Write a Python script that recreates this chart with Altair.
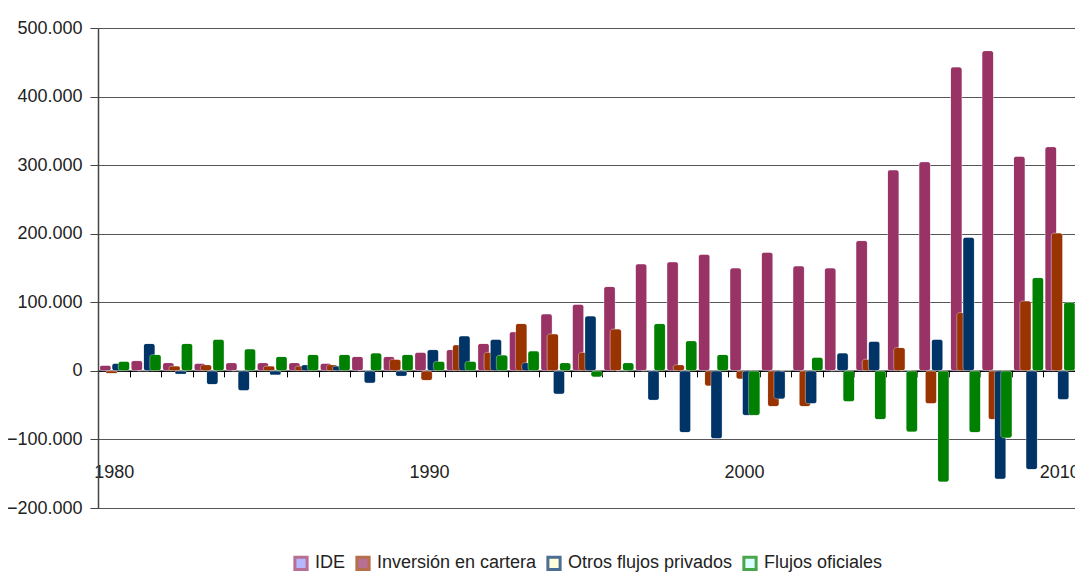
import altair as alt
import pandas as pd

years = list(range(1980, 2011))
series_names = ["IDE", "Inversión en cartera", "Otros flujos privados", "Flujos oficiales"]
bar_colors = ["#993366", "#993300", "#003366", "#008000"]
legend_inner = ["#9999FF", "#993366", "#FFFFCC", "#CCFFFF"]

ide = [8000, 15000, 12000, 11000, 12000, 12000, 12000, 11000, 21000, 21000,
       27000, 31000, 40000, 57000, 83000, 97000, 123000, 156000, 159000, 170000,
       150000, 173000, 153000, 150000, 190000, 293000, 305000, 443000, 467000, 313000, 327000]
cartera = [-4000, 0, 7000, 9000, 0, 7000, 7000, 9000, 0, 17000,
           -14000, 38000, 27000, 69000, 54000, 27000, 61000, 0, 9000, -22000,
           -12000, -52000, -52000, 0, 17000, 34000, -48000, 85000, -71000, 102000, 201000]
otros = [11000, 40000, -5000, -20000, -29000, -6000, 9000, 7000, -18000, -8000,
         31000, 51000, 46000, 12000, -34000, 80000, 0, -43000, -90000, -99000,
         -65000, -41000, -48000, 26000, 43000, 0, 46000, 195000, -158000, -144000, -42000]
oficiales = [14000, 24000, 40000, 46000, 32000, 21000, 24000, 24000, 26000, 24000,
             14000, 14000, 23000, 29000, 12000, -9000, 12000, 69000, 44000, 24000,
             -65000, 0, 20000, -45000, -71000, -89000, -162000, -90000, -98000, 136000, 100000]

y_ticks = [-200000, -100000, 0, 100000, 200000, 300000, 400000, 500000]
x_labels = ["1980", "1990", "2000", "2010"]

cols = [ide, cartera, otros, oficiales]
rows = []
for i, yr in enumerate(years):
    for s, vals in zip(series_names, cols):
        rows.append({"year": yr, "series": s, "value": vals[i]})
df = pd.DataFrame(rows)

FONT = "Liberation Sans"
W, H = 977, 480
zero_offset = -H * 200000 / 700000

label_expr = "indexof(" + str(x_labels) + ", datum.label) >= 0 ? datum.label : ''"

x_enc = alt.X("year:O", scale=alt.Scale(paddingInner=0, paddingOuter=0),
              axis=alt.Axis(title=None, offset=zero_offset, tickBand="extent",
                            domainColor="black", domainWidth=1.5, tickColor="black",
                            tickSize=6, labelPadding=87, labelAngle=0, grid=False,
                            labelExpr=label_expr, labelOverlap=False, labelBound=False,
                            labelFont=FONT, labelFontSize=18, labelColor="#222"))
xoff_enc = alt.XOffset("series:N", sort=series_names,
                       scale=alt.Scale(domain=series_names, range=[4.2, 29]))
y_enc = alt.Y("value:Q", scale=alt.Scale(domain=[-200000, 500000], nice=False),
              axis=alt.Axis(title=None, values=y_ticks,
                            labelExpr="datum.value == 0 ? '0' : format(datum.value/1000, 'd') + '.000'",
                            grid=True, gridColor="#555555", gridWidth=1,
                            domainColor="#444444", domainWidth=1.5,
                            tickColor="#444444", tickSize=8, labelPadding=8,
                            labelFont=FONT, labelFontSize=18, labelColor="#222"))

layers = []
for name, col in zip(series_names, bar_colors):
    layers.append(
        alt.Chart(df).transform_filter(alt.datum.series == name).mark_bar(
            width=11.5, cornerRadius=3, fill=col, stroke="white", strokeOpacity=0.3, strokeWidth=1
        ).encode(x=x_enc, xOffset=xoff_enc, y=y_enc)
    )

leg = alt.Legend(title=None, orient="none", legendX=194, legendY=526, direction="horizontal",
                 symbolType="square", symbolSize=150, symbolStrokeWidth=3,
                 labelFont=FONT, labelFontSize=18, labelColor="#222", labelLimit=0,
                 columnPadding=4, labelOffset=5)

legend_layer = alt.Chart(df).transform_filter("false").mark_square(strokeWidth=3).encode(
    fill=alt.Fill("series:N", scale=alt.Scale(domain=series_names, range=legend_inner), legend=leg),
    stroke=alt.Stroke("series:N", scale=alt.Scale(domain=series_names, range=bar_colors), legend=leg),
)
layers.append(legend_layer)

chart = alt.layer(*layers).properties(
    width=W, height=H,
    autosize=alt.AutoSizeParams(type="none"),
    padding={"left": 90, "top": 20, "right": 0, "bottom": 65},
).configure_view(stroke="#999999", strokeWidth=1).configure(background="white")

chart.save("out.html", embed_options={"renderer": "svg", "actions": False})
